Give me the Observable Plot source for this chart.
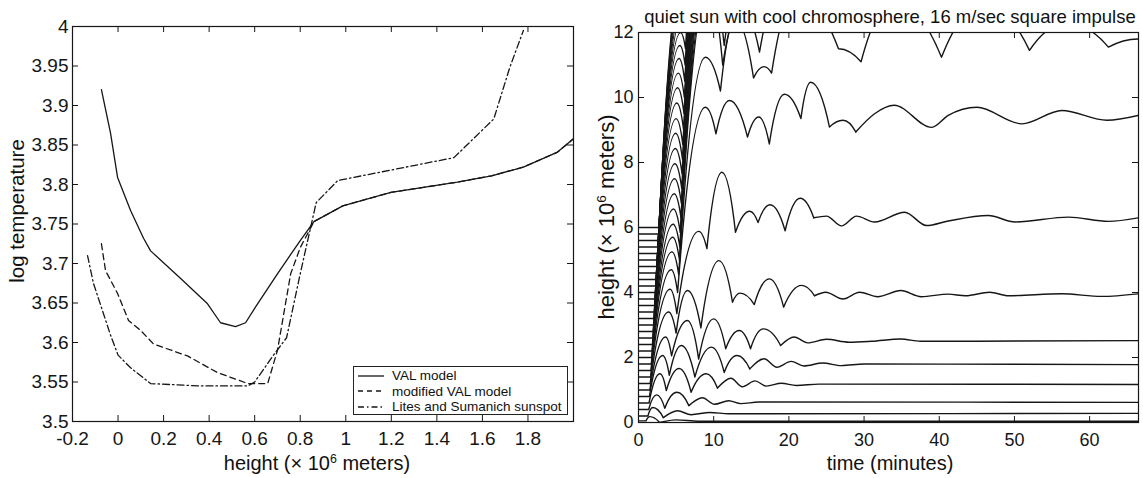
<!DOCTYPE html>
<html>
<head>
<meta charset="utf-8">
<script src="https://cdn.jsdelivr.net/npm/d3@7"></script>
<script src="https://cdn.jsdelivr.net/npm/@observablehq/plot@0.6"></script>
<style>
html,body{margin:0;padding:0;background:#fff}
#wrap{position:relative;width:1143px;height:478px;overflow:hidden;font-family:"Liberation Sans",Arial,Helvetica,sans-serif;color:#111}
.lbl{position:absolute;white-space:nowrap;font-size:20px;line-height:1;transform:translate(-50%,-50%)}
.rot{transform:translate(-50%,-50%) rotate(-90deg)}
.lbl sup{font-size:0.62em;vertical-align:0.6em;line-height:0}
#legend{position:absolute;left:353px;top:366px;width:215px;height:49px;border:1px solid #222;background:#fff;font-size:13.5px;line-height:15px;box-sizing:border-box;padding-top:1px;white-space:nowrap}
#legend .row{height:15.5px;display:flex;align-items:center}
#legend svg{margin-left:4px;margin-right:8px;flex:none}
</style>
</head>
<body>
<div id="wrap"></div>
<script>
// ---------- left panel data ----------
const valHeight = [-0.073,-0.033,-0.002,0.055,0.112,0.143,0.275,0.393,0.45,0.516,0.56,0.604,0.70,0.80,0.86,0.987,1.198,1.49,1.64,1.78,1.93,2.0];
const valLogT   = [3.92,3.865,3.809,3.767,3.732,3.716,3.681,3.649,3.625,3.62,3.625,3.645,3.687,3.729,3.753,3.773,3.79,3.803,3.811,3.822,3.841,3.858];
const modHeight = [-0.073,-0.055,-0.002,0.046,0.1,0.156,0.305,0.436,0.57,0.657,0.70,0.758,0.80,0.86,0.987,1.198,1.49,1.64,1.78,1.93,2.0];
const modLogT   = [3.725,3.691,3.662,3.628,3.615,3.598,3.583,3.562,3.548,3.548,3.59,3.687,3.72,3.753,3.773,3.79,3.803,3.811,3.822,3.841,3.858];
const litesHeight = [-0.134,-0.108,-0.068,-0.035,0.0,0.055,0.143,0.36,0.57,0.6,0.68,0.74,0.8,0.87,0.965,1.475,1.65,1.72,1.78];
const litesLogT   = [3.71,3.675,3.64,3.611,3.584,3.568,3.548,3.545,3.545,3.55,3.583,3.606,3.687,3.777,3.805,3.834,3.883,3.948,3.995];
const legendLabels = ["VAL model","modified VAL model","Lites and Sumanich sunspot"];
const leftXTicks = [-0.2,0,0.2,0.4,0.6,0.8,1,1.2,1.4,1.6,1.8];
const leftYTicks = [3.5,3.55,3.6,3.65,3.7,3.75,3.8,3.85,3.9,3.95,4];

// ---------- right panel data: parcel trajectories [time (min), height (10^6 m)] ----------
// shock-driven part (ballistic arcs with cusps)
const settledEarly = [
 [[0,0.05],[1.0,0.05],[1.5,0.18],[2.8,0.0]],
 [[0,0.2],[1.25,0.2],[1.9,0.46],[3.3,0.15]],
 [[0,0.4],[1.35,0.4],[2.4,0.85],[3.5,0.44],[5.1,0.93],[6.7,0.52]],
 [[0,0.6],[1.4,0.6],[2.85,1.5],[3.7,0.98],[5.4,1.66],[7.0,0.93],[9.0,1.5],[10.5,1.06]],
 [[0,0.8],[1.45,0.8],[3.2,2.06],[4.1,1.45],[5.7,2.37],[7.5,1.4],[9.7,2.32],[11.4,1.54],[13.1,2.06],[14.8,1.65]],
 [[0,1.0],[1.5,1.0],[3.6,2.63],[4.4,2.05],[6.5,3.14],[8.0,1.95],[10.0,3.19],[11.6,2.27],[13.4,2.83],[14.9,2.27],[16.6,2.88],[18.9,2.37]],
 [[0,1.2],[1.55,1.2],[4.0,3.4],[5.0,2.75],[6.5,4.06],[8.3,2.91],[10.7,4.98],[12.5,3.7],[13.5,3.98],[15.4,3.63],[17.4,4.42],[19.3,3.55],[21.7,4.22],[23.4,3.9]],
 [[0,1.4],[1.6,1.4],[4.2,4.1],[5.1,3.35],[8.0,5.88],[9.1,5.35],[11.1,7.7],[12.9,5.85],[14.8,6.5],[15.9,6.15],[17.5,6.7],[19.5,5.9],[21.5,6.9],[23.3,6.3]],
 [[0,1.6],[1.65,1.6],[4.35,4.7],[5.2,4.0],[8.9,9.7],[10.3,8.88],[12.1,9.91],[14.5,8.78],[16.0,9.4],[17.4,8.57],[19.4,10.1],[21.6,9.35],[22.9,10.47],[25.4,9.09],[27.2,9.3],[28.9,8.94]],
 [[0,1.8],[1.7,1.8],[4.45,5.25],[5.35,4.55],[8.9,11.24],[10.9,10.2],[12.9,12.4],[15.3,10.6],[16.7,10.95],[17.7,10.75],[21.0,13.2],[26.6,11.5],[29.6,11.1],[34.0,13.0],[40.3,11.24],[46.0,12.9],[52.0,11.45],[57.0,12.3],[62.5,11.55],[66.5,11.8]]
];
// later, gently oscillating part (smooth)
const settledLate = [
 [[2.8,0.0],[5.0,0.08],[8.0,0.04],[66.5,0.04]],
 [[3.3,0.15],[5.2,0.36],[7.0,0.24],[9.5,0.31],[12,0.27],[66.5,0.28]],
 [[6.7,0.52],[8.5,0.76],[10.1,0.56],[12.0,0.67],[13.6,0.58],[16,0.63],[66.5,0.62]],
 [[10.5,1.06],[12.3,1.36],[13.8,1.1],[15.5,1.28],[17.0,1.12],[19.0,1.21],[21.0,1.14],[24,1.18],[66.5,1.17]],
 [[14.8,1.65],[16.7,1.96],[18.4,1.7],[20.3,1.88],[22.0,1.74],[24.5,1.83],[27.0,1.75],[30.0,1.8],[66.5,1.78]],
 [[18.9,2.37],[20.7,2.63],[22.5,2.45],[25.0,2.56],[28.0,2.47],[31.0,2.5],[34.9,2.57],[37.5,2.5],[66.5,2.52]],
 [[23.4,3.9],[24.9,4.01],[27.2,3.8],[29.4,4.01],[31.8,3.87],[34.9,4.06],[37.6,3.87],[41.2,3.95],[43.5,3.9],[46.7,4.01],[49.2,3.9],[56.3,3.96],[61.6,3.88],[66.5,3.96]],
 [[23.3,6.3],[25.0,6.35],[27.0,6.05],[29.0,6.35],[31.4,6.17],[35.4,6.47],[38.3,6.06],[41.2,6.2],[46.5,6.37],[50.1,6.17],[57.2,6.32],[62.5,6.19],[66.5,6.3]],
 [[28.9,8.94],[31.4,9.5],[34.0,9.76],[39.0,9.08],[41.2,9.45],[45.0,9.7],[51.0,9.19],[56.3,9.6],[62.3,9.3],[66.5,9.45]]
];
const ejectedParcels = [
 [[0,2.0],[1.75,2.0],[4.55,5.7],[5.45,5.0],[9.3,13.4],[11.2,11.0],[13.6,12.8],[16.1,11.4],[20,14],[66.5,14]],
 [[0,2.2],[1.8,2.2],[4.6,6.1],[5.5,5.4],[9.4,13.8],[11.4,11.6],[15,15],[66.5,15]],
 [[0,2.4],[1.85,2.4],[4.65,6.57],[5.55,5.85],[9.5,14.3],[11.5,12.1],[15,15.5],[66.5,15.5]],
 [[0,2.6],[1.9,2.6],[4.75,7.04],[5.65,6.3],[9.6,14.8],[66.5,14.8]],
 [[0,2.8],[1.95,2.8],[4.8,7.5],[5.7,6.75],[9.7,15.3],[66.5,15.3]],
 [[0,3.0],[2.0,3.0],[4.85,7.96],[5.75,7.2],[9.8,15.8],[66.5,15.8]],
 [[0,3.2],[2.05,3.2],[4.9,8.43],[5.8,7.65],[9.9,16.3],[66.5,16.3]],
 [[0,3.4],[2.1,3.4],[4.95,8.9],[5.85,8.1],[10.0,16.8],[66.5,16.8]],
 [[0,3.6],[2.15,3.6],[5.0,9.35],[5.9,8.55],[10.1,17.3],[66.5,17.3]],
 [[0,3.8],[2.2,3.8],[5.1,9.83],[6.0,9.0],[10.2,17.8],[66.5,17.8]],
 [[0,4.0],[2.25,4.0],[5.2,10.3],[6.05,9.5],[10.3,18.3],[66.5,18.3]],
 [[0,4.2],[2.3,4.2],[5.3,10.75],[6.1,10.0],[10.4,18.8],[66.5,18.8]],
 [[0,4.4],[2.35,4.4],[5.4,11.2],[6.15,10.5],[10.5,19.3],[66.5,19.3]],
 [[0,4.6],[2.4,4.6],[5.5,11.6],[6.2,11.0],[10.6,19.8],[66.5,19.8]],
 [[0,4.8],[2.45,4.8],[5.6,12.0],[6.25,11.5],[10.7,20.3],[66.5,20.3]],
 [[0,5.0],[2.5,5.0],[5.7,12.4],[6.3,12.0],[10.8,20.8],[66.5,20.8]],
 [[0,5.2],[2.55,5.2],[5.8,12.8],[66.5,12.8]],
 [[0,5.4],[2.6,5.4],[5.9,13.2],[66.5,13.2]],
 [[0,5.6],[2.65,5.6],[6.0,13.6],[66.5,13.6]],
 [[0,5.8],[2.7,5.8],[6.1,14.0],[66.5,14.0]],
 [[0,6.0],[2.75,6.0],[6.2,14.4],[66.5,14.4]]
];
const rightXTicks = [0,10,20,30,40,50,60];
const rightYTicks = [0,2,4,6,8,10,12];
const rightTitle = "quiet sun with cool chromosphere, 16 m/sec square impulse";

// ---------- curve: ballistic arcs (parabola with vertex at the higher end of each segment) ----------
function ArcCurve(context){ this._context = context; }
ArcCurve.prototype = {
  areaStart(){ this._line = 0; },
  areaEnd(){ this._line = NaN; },
  lineStart(){ this._point = 0; },
  lineEnd(){ if (this._line || (this._line !== 0 && this._point === 1)) this._context.closePath(); this._line = 1 - this._line; },
  point(x, y){
    x = +x; y = +y;
    if (this._point === 0) { this._point = 1; this._line ? this._context.lineTo(x, y) : this._context.moveTo(x, y); }
    else { this._point = 2; this._context.quadraticCurveTo((this._x + x) / 2, Math.min(this._y, y), x, y); }
    this._x = x; this._y = y;
  }
};
const arcCurve = (context) => new ArcCurve(context);

const fmt = d => String(Math.round(d * 100) / 100);
const INK = "#161616";
const FONT = "'Liberation Sans', Arial, Helvetica, sans-serif";
const TL = 6; // tick length px

// ---------- left plot ----------
const LW = 590, LH = 478, LmL = 72, LmR = 17, LmT = 26, LmB = 57;
const lxd = [-0.2, 2.0], lyd = [3.5, 4.0];
const ltx = TL * (lxd[1] - lxd[0]) / (LW - LmL - LmR);
const lty = TL * (lyd[1] - lyd[0]) / (LH - LmT - LmB);
const lineOpts = {x: d => d[0], y: d => d[1], stroke: INK, strokeWidth: 1.3, clip: true};
const leftPlot = Plot.plot({
  width: LW, height: LH, marginLeft: LmL, marginRight: LmR, marginTop: LmT, marginBottom: LmB,
  x: {domain: lxd}, y: {domain: lyd},
  style: {fontFamily: FONT, fontSize: "19px", color: INK, background: "transparent", overflow: "visible"},
  marks: [
    Plot.axisX(leftXTicks, {anchor: "bottom", tickSize: 0, tickPadding: 10, tickFormat: fmt, label: null}),
    Plot.axisY(leftYTicks, {anchor: "left", tickSize: 0, tickPadding: 4, tickFormat: fmt, label: null}),
    Plot.ruleX(leftXTicks, {x: d => d, y1: lyd[0], y2: lyd[0] + lty, stroke: INK}),
    Plot.ruleX(leftXTicks, {x: d => d, y1: lyd[1] - lty, y2: lyd[1], stroke: INK}),
    Plot.ruleY(leftYTicks, {y: d => d, x1: lxd[0], x2: lxd[0] + ltx, stroke: INK}),
    Plot.ruleY(leftYTicks, {y: d => d, x1: lxd[1] - ltx, x2: lxd[1], stroke: INK}),
    Plot.line(d3.zip(valHeight, valLogT), lineOpts),
    Plot.line(d3.zip(modHeight, modLogT), {...lineOpts, strokeDasharray: "6,4"}),
    Plot.line(d3.zip(litesHeight, litesLogT), {...lineOpts, strokeDasharray: "7,3,1.5,3"}),
    Plot.frame({stroke: INK, strokeWidth: 1.2})
  ]
});

// ---------- right plot ----------
const RW = 553, RH = 478, RmL = 48, RmR = 5, RmT = 32, RmB = 56;
const rxd = [0, 66.5], ryd = [0, 12];
const rtx = TL * (rxd[1] - rxd[0]) / (RW - RmL - RmR);
const rty = TL * (ryd[1] - ryd[0]) / (RH - RmT - RmB);
const toRows = (list, offset) => list.flatMap((pts, i) => pts.map(([t, h]) => ({t, h, id: i + offset})));
const arcRows = [...toRows(settledEarly, 0), ...toRows(ejectedParcels, 100)];
const smoothRows = toRows(settledLate, 0);
const trajStyle = {x: "t", y: "h", z: "id", stroke: INK, strokeWidth: 1.4, clip: true};
const rightPlot = Plot.plot({
  width: RW, height: RH, marginLeft: RmL, marginRight: RmR, marginTop: RmT, marginBottom: RmB,
  x: {domain: rxd}, y: {domain: ryd},
  style: {fontFamily: FONT, fontSize: "18px", color: INK, background: "transparent", overflow: "visible"},
  marks: [
    Plot.axisX(rightXTicks, {anchor: "bottom", tickSize: 0, tickPadding: 11, tickFormat: fmt, label: null}),
    Plot.axisY(rightYTicks, {anchor: "left", tickSize: 0, tickPadding: 5, tickFormat: fmt, label: null}),
    Plot.line(arcRows, {...trajStyle, curve: arcCurve}),
    Plot.line(smoothRows, {...trajStyle, curve: "monotone-x"}),
    Plot.ruleX(rightXTicks, {x: d => d, y1: ryd[0], y2: ryd[0] + rty, stroke: INK}),
    Plot.ruleX(rightXTicks, {x: d => d, y1: ryd[1] - rty, y2: ryd[1], stroke: INK}),
    Plot.ruleY(rightYTicks, {y: d => d, x1: rxd[0], x2: rxd[0] + rtx, stroke: INK}),
    Plot.ruleY(rightYTicks, {y: d => d, x1: rxd[1] - rtx, x2: rxd[1], stroke: INK}),
    Plot.frame({stroke: INK, strokeWidth: 1.2})
  ]
});

const wrap = document.getElementById("wrap");
leftPlot.style.position = "absolute"; leftPlot.style.left = "0px"; leftPlot.style.top = "0px";
rightPlot.style.position = "absolute"; rightPlot.style.left = LW + "px"; rightPlot.style.top = "0px";
wrap.appendChild(leftPlot);
wrap.appendChild(rightPlot);

function addLabel(html, x, y, rotate, size){
  const d = document.createElement("div");
  d.className = "lbl" + (rotate ? " rot" : "");
  d.innerHTML = html;
  d.style.left = x + "px"; d.style.top = y + "px";
  if (size) d.style.fontSize = size + "px";
  wrap.appendChild(d);
}
addLabel("log temperature", 17, 211, true, 20.5);
addLabel("height (× 10<sup>6</sup> meters)", 317, 463, false, 20);
addLabel("height (× 10<sup>6</sup> meters)", 607, 217, true, 22);
addLabel("time (minutes)", 890, 463, false, 20);
addLabel(rightTitle, 890, 17, false, 18.5);

// legend
const dashes = ["", "5,4", "6,3,1.5,3"];
const leg = document.createElement("div");
leg.id = "legend";
legendLabels.forEach((name, i) => {
  const row = document.createElement("div");
  row.className = "row";
  row.innerHTML = `<svg width="26" height="8"><line x1="0" y1="4" x2="26" y2="4" stroke="${INK}" stroke-width="1.3" ${dashes[i] ? `stroke-dasharray="${dashes[i]}"` : ""}/></svg><span>${name}</span>`;
  leg.appendChild(row);
});
wrap.appendChild(leg);
</script>
</body>
</html>
